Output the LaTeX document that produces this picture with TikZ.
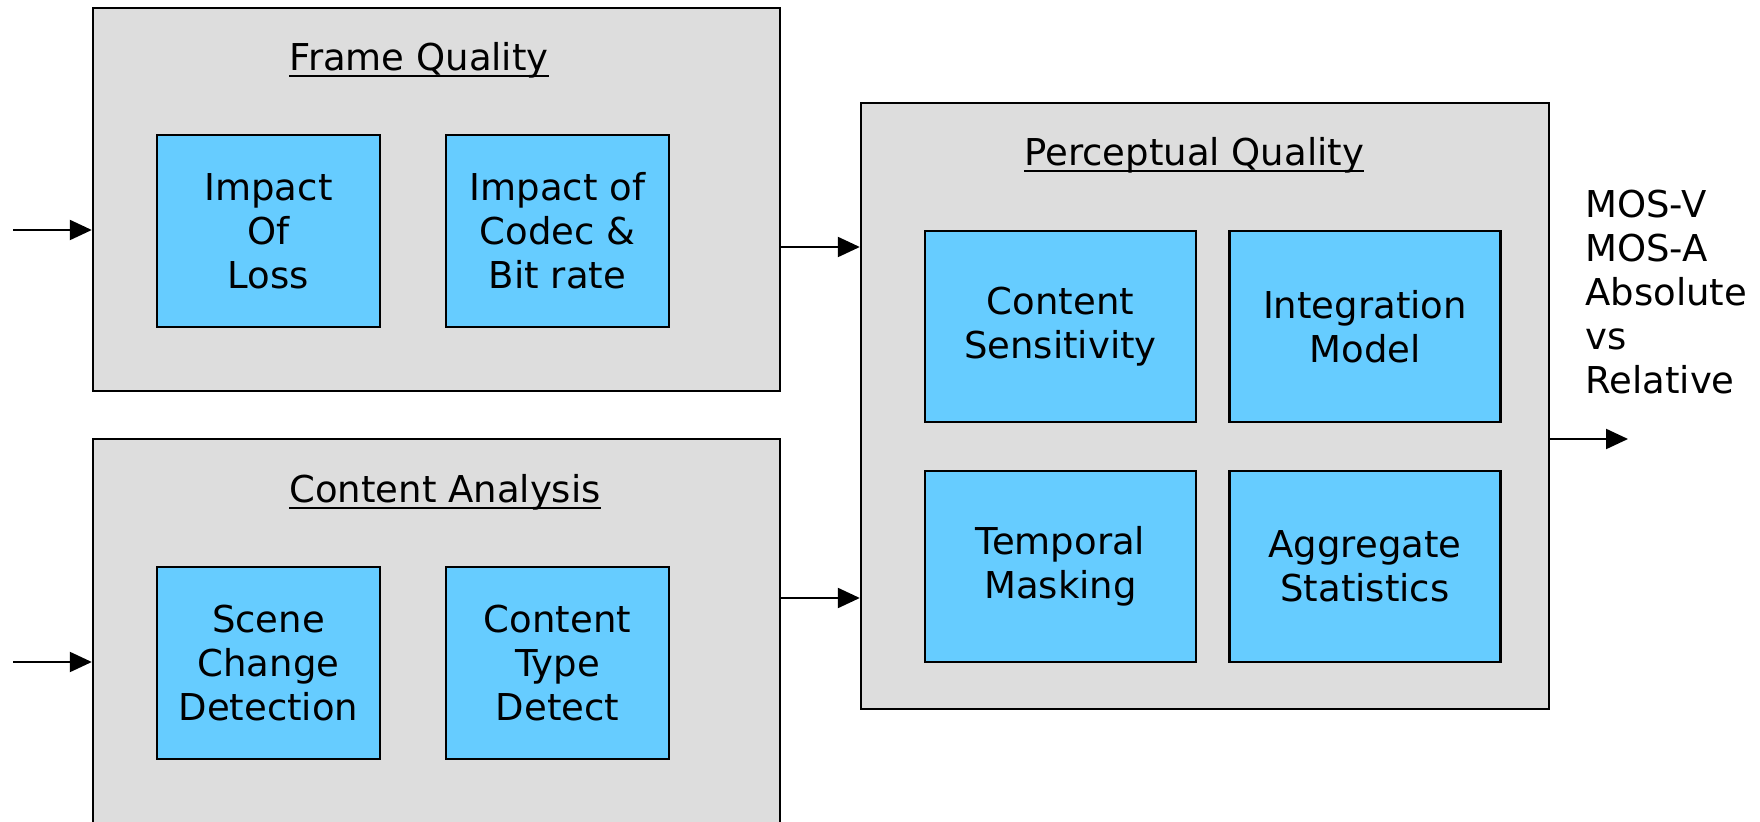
\documentclass[tikz,border=0pt]{standalone}
\usepackage{fontspec}
\setmainfont{DejaVu Sans}
\usetikzlibrary{arrows.meta}
\definecolor{panelgrey}{HTML}{DDDDDD}
\definecolor{blockblue}{HTML}{66CCFF}
\newcommand{\diagfont}{\fontsize{18.5}{22}\selectfont}
\tikzset{
  panel/.style={draw=black, line width=1.2pt, fill=panelgrey, inner sep=0pt},
  block/.style={draw=black, line width=1.2pt, fill=blockblue, align=center,
    inner sep=0pt, font=\diagfont},
  paneltitle/.style={anchor=base west, inner sep=0pt, font=\diagfont},
  titlerule/.style={line width=1.1pt},
  flow/.style={line width=1.1pt, -{Triangle[length=11pt,width=10pt]}},
}
\begin{document}
\begin{tikzpicture}[x=0.5pt, y=-0.5pt]
\useasboundingbox (0,0) rectangle (1760,822);
\clip (0,0) rectangle (1760,822);

% outer panels
\node[panel, minimum width=343.5pt, minimum height=191.5pt] (frame) at (436.5,199.5) {};
\node[panel, minimum width=343.5pt, minimum height=210.5pt] (content) at (436.5,649.5) {};
\node[panel, minimum width=344pt, minimum height=303pt] (perc) at (1205,406) {};

% panel titles, underlined
\node[paneltitle] (frametitle) at (289,71) {Frame Quality};
\node[paneltitle] (contenttitle) at (289,503) {Content Analysis};
\node[paneltitle] (perctitle) at (1024,166) {Perceptual Quality};
\foreach \t in {frametitle,contenttitle,perctitle}
  \draw[titlerule] ([yshift=-2.6pt]\t.base west) -- ([yshift=-2.6pt]\t.base east);

% frame quality blocks
\node[block, minimum width=111.5pt, minimum height=96pt] (loss) at (268.5,231) {Impact\\Of\\Loss};
\node[block, minimum width=111.5pt, minimum height=96pt] (codec) at (557.5,231) {Impact of\\Codec \&\\Bit rate};

% content analysis blocks
\node[block, minimum width=111.5pt, minimum height=96pt] (scene) at (268.5,663) {Scene\\Change\\Detection};
\node[block, minimum width=111.5pt, minimum height=96pt] (ctype) at (557.5,663) {Content\\Type\\Detect};

% perceptual quality blocks
\node[block, minimum width=135.5pt, minimum height=95.5pt] (sens) at (1060.5,326.5) {Content\\Sensitivity};
\node[block, minimum width=135.5pt, minimum height=95.5pt] (integ) at (1365,326.5) {Integration\\Model};
\node[block, minimum width=135.5pt, minimum height=95.5pt] (temp) at (1060.5,566.5) {Temporal\\Masking};
\node[block, minimum width=135.5pt, minimum height=95.5pt] (aggr) at (1365,566.5) {Aggregate\\Statistics};

% output label
\node[anchor=west, align=left, inner sep=0pt, font=\diagfont] (outlabel) at (1585,292)
  {MOS-V\\MOS-A\\Absolute\\vs\\Relative};

% connectors
\coordinate (in1) at (13,230);
\coordinate (in2) at (13,662);
\coordinate (out) at (1628,439);
\draw[flow] (in1) -- (frame.west |- in1);
\draw[flow] (in2) -- (content.west |- in2);
\draw[flow] (frame.east |- 0,247) -- (perc.west |- 0,247);
\draw[flow] (content.east |- 0,598) -- (perc.west |- 0,598);
\draw[flow] (perc.east |- out) -- (out);
\end{tikzpicture}
\end{document}
